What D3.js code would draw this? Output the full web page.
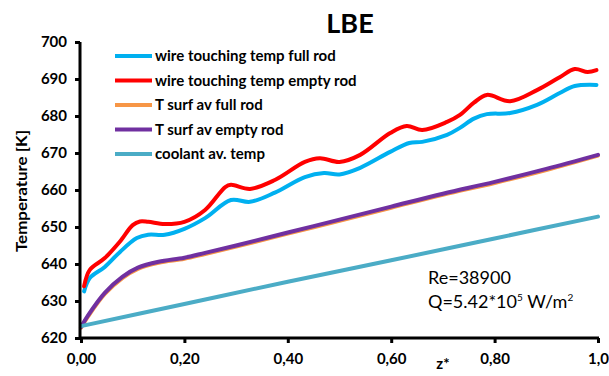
<!DOCTYPE html>
<html>
<head>
<meta charset="utf-8">
<script src="https://cdn.jsdelivr.net/npm/d3@7"></script>
<style>
  body { margin: 0; background: #fff; }
  text { font-family: Lato, "Open Sans", sans-serif; }
</style>
</head>
<body>
<svg id="chart" width="609" height="376"></svg>
<script>
// Values (z*, temperature in K)
var wireFull = [
  [0.006, 632.6], [0.017, 636.2], [0.046, 639.2], [0.075, 643.2], [0.108, 647.0],
  [0.130, 647.9], [0.162, 647.9], [0.200, 649.5], [0.240, 652.4], [0.290, 657.3],
  [0.327, 656.8], [0.375, 659.3], [0.433, 663.5], [0.470, 664.6], [0.500, 664.2],
  [0.540, 666.0], [0.598, 670.3], [0.635, 672.7], [0.660, 673.0], [0.708, 674.9],
  [0.733, 676.8], [0.760, 679.3], [0.785, 680.5], [0.830, 680.8], [0.882, 683.0],
  [0.926, 686.2], [0.955, 688.1], [0.997, 688.4]
];
var wireEmpty = [
  [0.006, 634.0], [0.017, 638.4], [0.046, 641.6], [0.075, 646.0], [0.100, 650.5],
  [0.114, 651.5], [0.130, 651.4], [0.162, 650.8], [0.200, 651.4], [0.240, 654.6],
  [0.279, 660.8], [0.290, 661.4], [0.327, 660.3], [0.375, 662.7], [0.433, 667.6],
  [0.462, 668.6], [0.500, 667.6], [0.540, 669.5], [0.598, 675.4], [0.630, 677.3],
  [0.660, 676.2], [0.708, 678.4], [0.733, 680.3], [0.760, 683.6], [0.785, 685.7],
  [0.830, 684.0], [0.882, 687.0], [0.926, 690.5], [0.955, 692.7], [0.980, 691.9],
  [0.997, 692.4]
];
var surfFull = [
  [0.000, 622.8], [0.014, 625.9], [0.046, 631.9], [0.080, 636.2], [0.110, 638.7],
  [0.150, 640.3], [0.200, 641.4], [0.240, 642.7], [0.300, 644.7], [0.400, 648.2],
  [0.500, 651.7], [0.600, 655.2], [0.700, 658.7], [0.800, 661.9], [0.900, 665.4],
  [1.000, 669.3]
];
var surfEmpty = [
  [0.000, 623.0], [0.014, 626.2], [0.046, 632.2], [0.080, 636.5], [0.110, 639.0],
  [0.150, 640.6], [0.200, 641.7], [0.240, 643.0], [0.300, 645.0], [0.400, 648.5],
  [0.500, 652.0], [0.600, 655.5], [0.700, 659.0], [0.800, 662.2], [0.900, 665.7],
  [1.000, 669.5]
];
var coolant = [
  [0.000, 623.2], [0.200, 629.2], [0.400, 635.2], [0.600, 641.0], [0.800, 646.9],
  [1.000, 652.8]
];

var seriesNames = ["wire touching temp full rod", "wire touching temp empty rod",
  "T surf av full rod", "T surf av empty rod", "coolant av. temp"];
var seriesColors = ["#00b0f0", "#ff0000", "#f79646", "#7030a0", "#4bacc6"];
var seriesData = [wireFull, wireEmpty, surfFull, surfEmpty, coolant];

var xTicks = [0, 0.2, 0.4, 0.6, 0.8, 1.0];
var xTickLabels = ["0,00", "0,20", "0,40", "0,60", "0,80", "1,0"];
var yTicks = [620, 630, 640, 650, 660, 670, 680, 690, 700];

var svg = d3.select("#chart");
var margin = { left: 81, right: 11, top: 42, bottom: 38 };
var width = 609, height = 376;

var x = d3.scaleLinear().domain([0, 1]).range([margin.left, width - margin.right]);
var y = d3.scaleLinear().domain([620, 700]).range([height - margin.bottom, margin.top]);

// Curves: draw in legend order so later series sit on top
var line = d3.line()
  .x(d => x(d[0]))
  .y(d => y(d[1]))
  .curve(d3.curveCatmullRom.alpha(0.5));

svg.append("g")
  .selectAll("path")
  .data(seriesData)
  .enter()
  .append("path")
  .attr("d", line)
  .attr("fill", "none")
  .attr("stroke", (d, i) => seriesColors[i])
  .attr("stroke-width", 4)
  .attr("stroke-linejoin", "round")
  .attr("stroke-linecap", "round");

// Axes
var xAxis = svg.append("g")
  .attr("transform", "translate(0," + y(620) + ")")
  .call(d3.axisBottom(x).tickValues(xTicks).tickSize(5).tickFormat((d, i) => xTickLabels[i]));
var yAxis = svg.append("g")
  .attr("transform", "translate(" + (x(0) - 1) + ",0)")
  .call(d3.axisLeft(y).tickValues(yTicks).tickSize(5).tickFormat(d3.format("d")));

[xAxis, yAxis].forEach(function(a) {
  a.select(".domain").attr("stroke", "#000").attr("stroke-width", 3);
  a.selectAll(".tick line").attr("stroke", "#000").attr("stroke-width", 3);
  a.selectAll(".tick text")
    .style("font-family", "Lato, sans-serif")
    .style("font-weight", "bold")
    .style("font-size", "15px")
    .attr("fill", "#000");
});
xAxis.select(".domain").attr("d", "M" + (x(0) - 2) + ",0H" + (x(1) + 1));
yAxis.select(".domain").attr("d", "M0," + y(620) + "V" + y(700));
xAxis.selectAll(".tick text").attr("y", 15);
yAxis.selectAll(".tick text").attr("x", -13);

// Title and axis labels
svg.append("text")
  .attr("x", 350).attr("y", 33)
  .attr("text-anchor", "middle")
  .style("font-weight", "bold").style("font-size", "27px")
  .text("LBE");

svg.append("text")
  .attr("transform", "translate(27,191) rotate(-90)")
  .attr("text-anchor", "middle")
  .attr("textLength", 122)
  .attr("lengthAdjust", "spacingAndGlyphs")
  .style("font-weight", "bold").style("font-size", "15px")
  .text("Temperature [K]");

svg.append("text")
  .attr("x", 443).attr("y", 369)
  .attr("text-anchor", "middle")
  .style("font-weight", "bold").style("font-size", "15px")
  .text("z*");

// Legend
var legend = svg.append("g")
  .selectAll("g")
  .data(seriesNames)
  .enter()
  .append("g")
  .attr("transform", (d, i) => "translate(115," + (56 + i * 24.5) + ")");
legend.append("line")
  .attr("x1", 0).attr("x2", 37)
  .attr("stroke", (d, i) => seriesColors[i])
  .attr("stroke-width", 4);
legend.append("text")
  .attr("x", 40).attr("y", 5)
  .style("font-weight", "bold").style("font-size", "15px")
  .text(d => d);

// Annotation
svg.append("text")
  .attr("x", 428).attr("y", 284)
  .style("font-size", "18px")
  .text("Re=38900");
var q = svg.append("text")
  .attr("x", 428).attr("y", 308)
  .style("font-size", "18px");
q.append("tspan").text("Q=5.42*10");
q.append("tspan").attr("dy", -7).style("font-size", "10px").text("5");
q.append("tspan").attr("dy", 7).text(" W/m");
q.append("tspan").attr("dy", -7).style("font-size", "10px").text("2");
</script>
</body>
</html>
